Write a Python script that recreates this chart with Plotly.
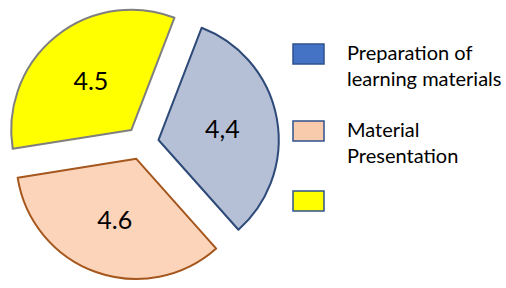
import plotly.graph_objects as go

categories = ["Preparation of learning materials", "Material Presentation", " "]
legend_lines = [["Preparation of", "learning materials"], ["Material", "Presentation"], []]
values = [4.4, 4.6, 4.5]
value_labels = ["4,4", "4.6", "4.5"]

slice_colors = ["#B5C0D6", "#FBD4BA", "#FFFF00"]
slice_borders = ["#2E4A78", "#A5571E", "#7F7F7F"]
legend_colors = ["#4472C4", "#F8CBAD", "#FFFF00"]

W, H = 506, 288

fig = go.Figure()
fig.add_trace(go.Pie(
    labels=categories,
    values=values,
    text=value_labels,
    textinfo="text",
    textposition="inside",
    insidetextorientation="horizontal",
    textfont=dict(family="Lato", size=25, color="#000000"),
    sort=False,
    direction="clockwise",
    rotation=21,
    pull=[0.14, 0.14, 0.14],
    marker=dict(colors=slice_colors, line=dict(color=slice_borders, width=2)),
    domain=dict(x=[5 / W, 279 / W], y=[8 / H, 282 / H]),
    showlegend=False,
    hoverinfo="skip",
))

shapes = []
annotations = []
box_x0, box_x1 = 293, 324
box_tops = [44, 121, 191]
text_x = 345
for i, top in enumerate(box_tops):
    shapes.append(dict(
        type="rect", xref="paper", yref="paper",
        x0=box_x0 / W, x1=box_x1 / W,
        y0=1 - (top + 20) / H, y1=1 - top / H,
        fillcolor=legend_colors[i], line=dict(color="#2F528F", width=1.5),
    ))
    if legend_lines[i]:
        annotations.append(dict(
            xref="paper", yref="paper", x=text_x / W, y=1 - (top - 6) / H,
            xanchor="left", yanchor="top", align="left",
            text="<br>".join(legend_lines[i]), showarrow=False,
            font=dict(family="Lato", size=20, color="#000000"),
        ))

fig.update_layout(
    width=W, height=H,
    margin=dict(l=0, r=0, t=0, b=0),
    paper_bgcolor="white", plot_bgcolor="white",
    shapes=shapes, annotations=annotations,
)
fig.write_html("out.html", config={"displayModeBar": False},
               post_script="document.body.style.margin='0';")
